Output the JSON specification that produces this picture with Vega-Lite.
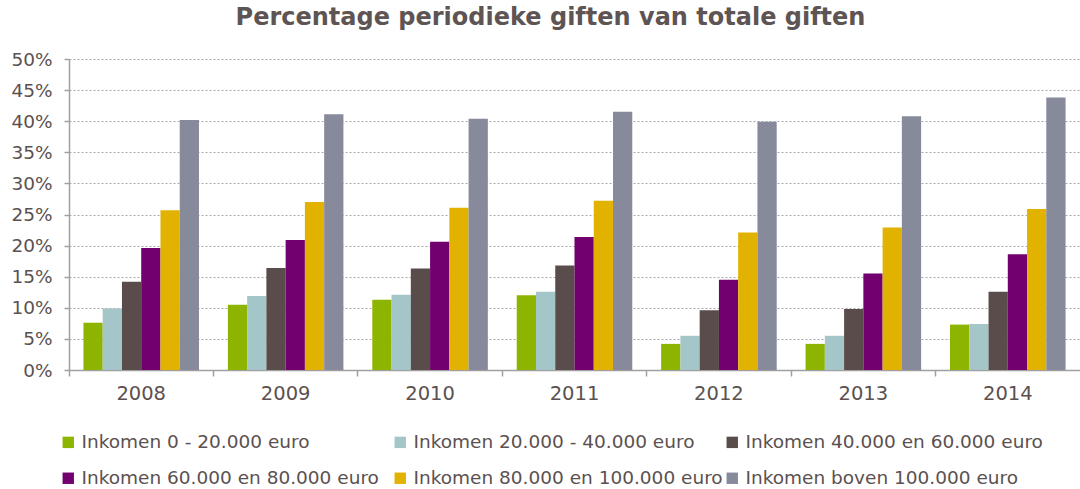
{
  "$schema": "https://vega.github.io/schema/vega-lite/v6.json",
  "width": 1011,
  "height": 311,
  "autosize": {"type": "none"},
  "padding": {"left": 69, "top": 59, "right": 0, "bottom": 119},
  "background": "white",
  "title": {
    "text": "Percentage periodieke giften van totale giften",
    "font": "DejaVu Sans",
    "fontSize": 24,
    "fontWeight": "bold",
    "color": "#5E5453",
    "anchor": "middle",
    "dx": -24,
    "offset": 20
  },
  "data": {
    "values": [
      {"jaar": "2008", "groep": "Inkomen 0 - 20.000 euro", "pct": 7.6},
      {"jaar": "2008", "groep": "Inkomen 20.000 - 40.000 euro", "pct": 9.9},
      {"jaar": "2008", "groep": "Inkomen 40.000 en 60.000 euro", "pct": 14.2},
      {"jaar": "2008", "groep": "Inkomen 60.000 en 80.000 euro", "pct": 19.6},
      {"jaar": "2008", "groep": "Inkomen 80.000 en 100.000 euro", "pct": 25.7},
      {"jaar": "2008", "groep": "Inkomen boven 100.000 euro", "pct": 40.2},
      {"jaar": "2009", "groep": "Inkomen 0 - 20.000 euro", "pct": 10.5},
      {"jaar": "2009", "groep": "Inkomen 20.000 - 40.000 euro", "pct": 11.9},
      {"jaar": "2009", "groep": "Inkomen 40.000 en 60.000 euro", "pct": 16.4},
      {"jaar": "2009", "groep": "Inkomen 60.000 en 80.000 euro", "pct": 20.9},
      {"jaar": "2009", "groep": "Inkomen 80.000 en 100.000 euro", "pct": 27.0},
      {"jaar": "2009", "groep": "Inkomen boven 100.000 euro", "pct": 41.1},
      {"jaar": "2010", "groep": "Inkomen 0 - 20.000 euro", "pct": 11.3},
      {"jaar": "2010", "groep": "Inkomen 20.000 - 40.000 euro", "pct": 12.1},
      {"jaar": "2010", "groep": "Inkomen 40.000 en 60.000 euro", "pct": 16.3},
      {"jaar": "2010", "groep": "Inkomen 60.000 en 80.000 euro", "pct": 20.6},
      {"jaar": "2010", "groep": "Inkomen 80.000 en 100.000 euro", "pct": 26.1},
      {"jaar": "2010", "groep": "Inkomen boven 100.000 euro", "pct": 40.4},
      {"jaar": "2011", "groep": "Inkomen 0 - 20.000 euro", "pct": 12.0},
      {"jaar": "2011", "groep": "Inkomen 20.000 - 40.000 euro", "pct": 12.6},
      {"jaar": "2011", "groep": "Inkomen 40.000 en 60.000 euro", "pct": 16.8},
      {"jaar": "2011", "groep": "Inkomen 60.000 en 80.000 euro", "pct": 21.4},
      {"jaar": "2011", "groep": "Inkomen 80.000 en 100.000 euro", "pct": 27.2},
      {"jaar": "2011", "groep": "Inkomen boven 100.000 euro", "pct": 41.5},
      {"jaar": "2012", "groep": "Inkomen 0 - 20.000 euro", "pct": 4.2},
      {"jaar": "2012", "groep": "Inkomen 20.000 - 40.000 euro", "pct": 5.5},
      {"jaar": "2012", "groep": "Inkomen 40.000 en 60.000 euro", "pct": 9.6},
      {"jaar": "2012", "groep": "Inkomen 60.000 en 80.000 euro", "pct": 14.5},
      {"jaar": "2012", "groep": "Inkomen 80.000 en 100.000 euro", "pct": 22.1},
      {"jaar": "2012", "groep": "Inkomen boven 100.000 euro", "pct": 39.9},
      {"jaar": "2013", "groep": "Inkomen 0 - 20.000 euro", "pct": 4.2},
      {"jaar": "2013", "groep": "Inkomen 20.000 - 40.000 euro", "pct": 5.5},
      {"jaar": "2013", "groep": "Inkomen 40.000 en 60.000 euro", "pct": 9.8},
      {"jaar": "2013", "groep": "Inkomen 60.000 en 80.000 euro", "pct": 15.5},
      {"jaar": "2013", "groep": "Inkomen 80.000 en 100.000 euro", "pct": 22.9},
      {"jaar": "2013", "groep": "Inkomen boven 100.000 euro", "pct": 40.8},
      {"jaar": "2014", "groep": "Inkomen 0 - 20.000 euro", "pct": 7.3},
      {"jaar": "2014", "groep": "Inkomen 20.000 - 40.000 euro", "pct": 7.4},
      {"jaar": "2014", "groep": "Inkomen 40.000 en 60.000 euro", "pct": 12.6},
      {"jaar": "2014", "groep": "Inkomen 60.000 en 80.000 euro", "pct": 18.6},
      {"jaar": "2014", "groep": "Inkomen 80.000 en 100.000 euro", "pct": 25.9},
      {"jaar": "2014", "groep": "Inkomen boven 100.000 euro", "pct": 43.8}
    ]
  },
  "mark": {"type": "bar"},
  "encoding": {
    "x": {
      "field": "jaar",
      "type": "nominal",
      "title": null,
      "scale": {"paddingInner": 0.2, "paddingOuter": 0.1},
      "axis": {
        "bandPosition": -0.125,
        "labelAngle": 0,
        "labelFont": "DejaVu Sans",
        "labelFontSize": 19.5,
        "labelColor": "#5B5150",
        "labelPadding": 8,
        "domainColor": "#A0A0A0",
        "domainWidth": 1.5,
        "tickColor": "#A0A0A0",
        "tickSize": 6,
        "tickWidth": 1.5,
        "grid": false
      }
    },
    "xOffset": {
      "field": "groep",
      "type": "nominal",
      "scale": {"paddingInner": 0, "paddingOuter": 0}
    },
    "y": {
      "field": "pct",
      "type": "quantitative",
      "title": null,
      "scale": {"domain": [0, 50], "nice": false},
      "axis": {
        "values": [0, 5, 10, 15, 20, 25, 30, 35, 40, 45, 50],
        "labelExpr": "datum.value + '%'",
        "labelFont": "DejaVu Sans",
        "labelFontSize": 18.5,
        "labelColor": "#5B5150",
        "labelPadding": 12,
        "domainColor": "#A0A0A0",
        "domainWidth": 1.5,
        "tickColor": "#A0A0A0",
        "tickSize": 5,
        "tickWidth": 1.5,
        "grid": true,
        "gridColor": "#A8A8A8",
        "gridDash": [2, 2],
        "gridWidth": 1.2
      }
    },
    "color": {
      "field": "groep",
      "type": "nominal",
      "title": null,
      "scale": {
        "domain": [
          "Inkomen 0 - 20.000 euro",
          "Inkomen 20.000 - 40.000 euro",
          "Inkomen 40.000 en 60.000 euro",
          "Inkomen 60.000 en 80.000 euro",
          "Inkomen 80.000 en 100.000 euro",
          "Inkomen boven 100.000 euro"
        ],
        "range": ["#8CB400", "#A5C6C8", "#594C4A", "#72006F", "#E1B300", "#868A9A"]
      },
      "legend": {
        "orient": "none",
        "legendX": -10,
        "legendY": 374,
        "direction": "horizontal",
        "columns": 3,
        "gridAlign": "all",
        "columnPadding": -4,
        "rowPadding": 17,
        "symbolType": "square",
        "symbolSize": 130,
        "symbolStrokeWidth": 0,
        "labelFont": "DejaVu Sans",
        "labelFontSize": 18.5,
        "labelColor": "#5B5150",
        "labelOffset": 4,
        "labelLimit": 400
      }
    }
  },
  "config": {"view": {"stroke": null}}
}
